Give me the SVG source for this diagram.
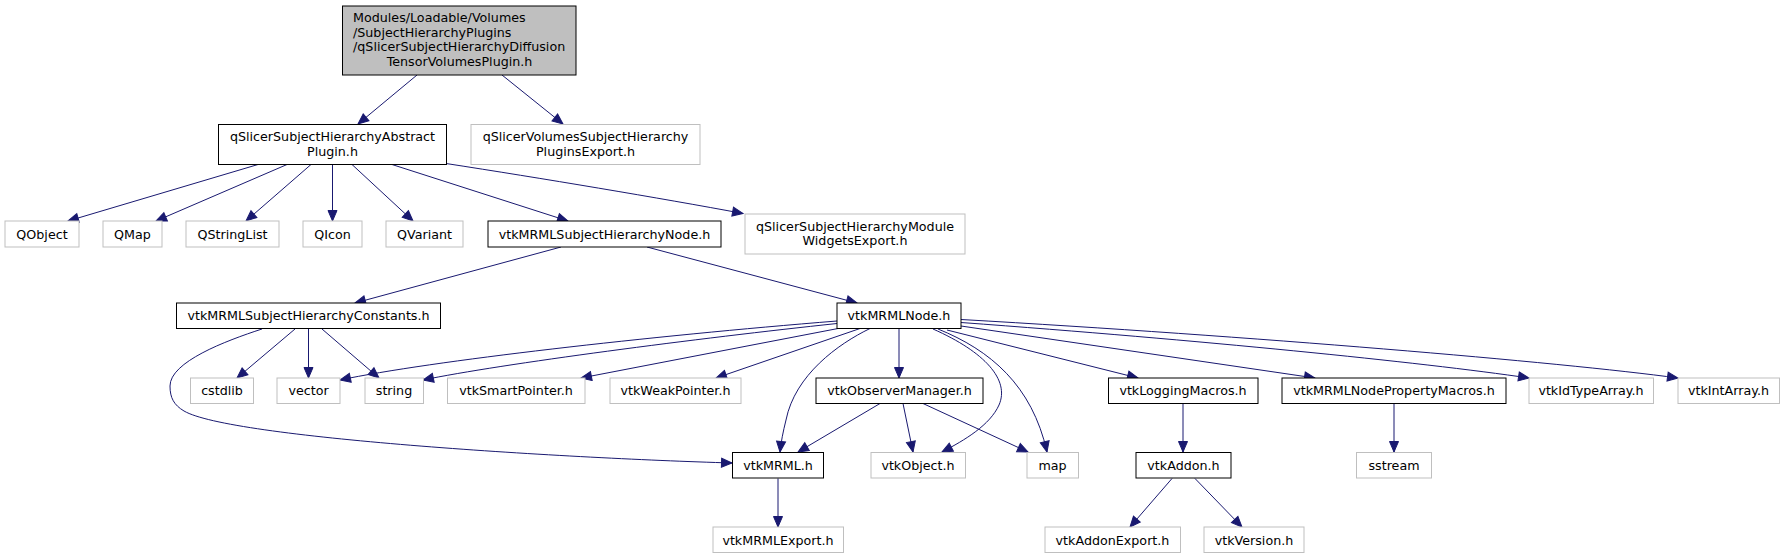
<svg xmlns="http://www.w3.org/2000/svg" width="1785" height="559" viewBox="0 0 1785 559">
<style>
text{font-family:"DejaVu Sans","Liberation Sans",sans-serif;font-size:12.7px;fill:#000}
.c{text-anchor:middle}
.k{fill:#fff;stroke:#000;stroke-width:1}
.g{fill:#fff;stroke:#bfbfbf;stroke-width:1}
.t{fill:#bfbfbf;stroke:#000;stroke-width:1}
.e{fill:none;stroke:#191970;stroke-width:1;marker-end:url(#a)}
</style>
<defs>
<marker id="a" markerUnits="userSpaceOnUse" markerWidth="13" markerHeight="11" refX="11" refY="5" orient="auto" overflow="visible">
<path d="M0.5,0.5 L11,5 L0.5,9.5 z" fill="#191970" stroke="#191970" stroke-width="1"/>
</marker>
</defs>
<rect width="1785" height="559" fill="#fff"/>
<g id="connectors">
<path class="e" d="M417,75 L358,124"/>
<path class="e" d="M502,75 L563,124"/>
<path class="e" d="M258,164.5 L68,221"/>
<path class="e" d="M287,164.5 L156,221"/>
<path class="e" d="M311,164.5 L246,221"/>
<path class="e" d="M332.5,164.5 L332.5,221"/>
<path class="e" d="M352,164.5 L413,221"/>
<path class="e" d="M392,164.5 L568,221"/>
<path class="e" d="M446,163.5 C540,178 660,198 743,213.5"/>
<path class="e" d="M561,247 L355,303"/>
<path class="e" d="M647,247 L857,303"/>
<path class="e" d="M295,329 L237,378"/>
<path class="e" d="M308.5,329 L308.5,378"/>
<path class="e" d="M322,329 L379,378"/>
<path class="e" d="M262,329 C225,341 170,362 170,386 C170,398 174,405 184,411 C230,438 560,458 732,463"/>
<path class="e" d="M837,321 C650,336 430,361 340,380"/>
<path class="e" d="M837,323.5 C700,338 500,364 423,380"/>
<path class="e" d="M838,328.5 L581,378"/>
<path class="e" d="M860,328.5 L716,378"/>
<path class="e" d="M870,328.5 C838,344 795,375 786,420 C783,432 781,442 780,452"/>
<path class="e" d="M899,328.5 L899,378"/>
<path class="e" d="M933,329 C985,352 1010,380 999,405 C990,425 965,440 942,452"/>
<path class="e" d="M938,329 C990,350 1032,385 1047,452"/>
<path class="e" d="M947,330 L1138,378"/>
<path class="e" d="M961,326 L1315,378"/>
<path class="e" d="M961,322.5 C1200,340 1420,362 1529,378"/>
<path class="e" d="M961,319.5 C1250,336 1560,362 1678,378"/>
<path class="e" d="M880,403.5 L798,452"/>
<path class="e" d="M903,403.5 L913,452"/>
<path class="e" d="M923,403.5 L1028,452"/>
<path class="e" d="M778,478.5 L778,527"/>
<path class="e" d="M1183,403.5 L1183,452"/>
<path class="e" d="M1172,478.5 L1130,527"/>
<path class="e" d="M1195,478.5 L1242,527"/>
<path class="e" d="M1394,403.5 L1394,452"/>
</g>
<g id="n_top"><rect class="t" x="342.5" y="6" width="233.5" height="69"/>
<text x="353" y="22">Modules/Loadable/Volumes</text>
<text x="353" y="36.7">/SubjectHierarchyPlugins</text>
<text x="353" y="51.4">/qSlicerSubjectHierarchyDiffusion</text>
<text class="c" x="459.5" y="66.1">TensorVolumesPlugin.h</text></g>
<g id="n_abstract"><rect class="k" x="218.5" y="124.5" width="228" height="40"/>
<text class="c" x="332.5" y="141.2">qSlicerSubjectHierarchyAbstract</text>
<text class="c" x="332.5" y="155.9">Plugin.h</text></g>
<g id="n_volexport"><rect class="g" x="471" y="124.5" width="229" height="40"/>
<text class="c" x="585.5" y="141.2">qSlicerVolumesSubjectHierarchy</text>
<text class="c" x="585.5" y="155.9">PluginsExport.h</text></g>
<g id="n_qobject"><rect class="g" x="5" y="221" width="74" height="26"/><text class="c" x="42" y="238.5">QObject</text></g>
<g id="n_qmap"><rect class="g" x="103" y="221" width="59" height="26"/><text class="c" x="132.5" y="238.5">QMap</text></g>
<g id="n_qstringlist"><rect class="g" x="186" y="221" width="93" height="26"/><text class="c" x="232.5" y="238.5">QStringList</text></g>
<g id="n_qicon"><rect class="g" x="303" y="221" width="59" height="26"/><text class="c" x="332.5" y="238.5">QIcon</text></g>
<g id="n_qvariant"><rect class="g" x="386" y="221" width="77" height="26"/><text class="c" x="424.5" y="238.5">QVariant</text></g>
<g id="n_shnode"><rect class="k" x="488" y="221" width="233" height="26"/><text class="c" x="604.5" y="238.5">vtkMRMLSubjectHierarchyNode.h</text></g>
<g id="n_widgetsexport"><rect class="g" x="745" y="214" width="220" height="40"/>
<text class="c" x="855" y="230.7">qSlicerSubjectHierarchyModule</text>
<text class="c" x="855" y="245.4">WidgetsExport.h</text></g>
<g id="n_constants"><rect class="k" x="176.5" y="303" width="264" height="25.5"/><text class="c" x="308.5" y="320">vtkMRMLSubjectHierarchyConstants.h</text></g>
<g id="n_mrmlnode"><rect class="k" x="837" y="303" width="124" height="25.5"/><text class="c" x="899" y="320">vtkMRMLNode.h</text></g>
<g id="n_cstdlib"><rect class="g" x="190.5" y="378" width="63" height="25.5"/><text class="c" x="222" y="395">cstdlib</text></g>
<g id="n_vector"><rect class="g" x="277" y="378" width="63" height="25.5"/><text class="c" x="308.5" y="395">vector</text></g>
<g id="n_string"><rect class="g" x="365" y="378" width="58.5" height="25.5"/><text class="c" x="394" y="395">string</text></g>
<g id="n_smartptr"><rect class="g" x="447.5" y="378" width="137.5" height="25.5"/><text class="c" x="516" y="395">vtkSmartPointer.h</text></g>
<g id="n_weakptr"><rect class="g" x="610" y="378" width="131" height="25.5"/><text class="c" x="675.5" y="395">vtkWeakPointer.h</text></g>
<g id="n_observer"><rect class="k" x="816" y="378" width="167" height="25.5"/><text class="c" x="899.5" y="395">vtkObserverManager.h</text></g>
<g id="n_logging"><rect class="k" x="1108.5" y="378" width="149.5" height="25.5"/><text class="c" x="1183" y="395">vtkLoggingMacros.h</text></g>
<g id="n_propmacros"><rect class="k" x="1282" y="378" width="224" height="25.5"/><text class="c" x="1394" y="395">vtkMRMLNodePropertyMacros.h</text></g>
<g id="n_idtype"><rect class="g" x="1529" y="378" width="124.5" height="25.5"/><text class="c" x="1591" y="395">vtkIdTypeArray.h</text></g>
<g id="n_intarray"><rect class="g" x="1678" y="378" width="101.5" height="25.5"/><text class="c" x="1728.5" y="395">vtkIntArray.h</text></g>
<g id="n_vtkmrml"><rect class="k" x="732.5" y="452.5" width="91" height="25.5"/><text class="c" x="778" y="469.5">vtkMRML.h</text></g>
<g id="n_vtkobject"><rect class="g" x="871" y="452.5" width="94.5" height="25.5"/><text class="c" x="918" y="469.5">vtkObject.h</text></g>
<g id="n_map"><rect class="g" x="1027" y="452.5" width="51.5" height="25.5"/><text class="c" x="1052.5" y="469.5">map</text></g>
<g id="n_addon"><rect class="k" x="1136" y="452.5" width="95" height="25.5"/><text class="c" x="1183.5" y="469.5">vtkAddon.h</text></g>
<g id="n_sstream"><rect class="g" x="1356.5" y="452.5" width="75" height="25.5"/><text class="c" x="1394" y="469.5">sstream</text></g>
<g id="n_mrmlexport"><rect class="g" x="713" y="527" width="130.5" height="25.5"/><text class="c" x="778" y="544.5">vtkMRMLExport.h</text></g>
<g id="n_addonexport"><rect class="g" x="1045" y="527" width="135.5" height="25.5"/><text class="c" x="1112.5" y="544.5">vtkAddonExport.h</text></g>
<g id="n_version"><rect class="g" x="1204" y="527" width="100" height="25.5"/><text class="c" x="1254" y="544.5">vtkVersion.h</text></g>
</svg>
